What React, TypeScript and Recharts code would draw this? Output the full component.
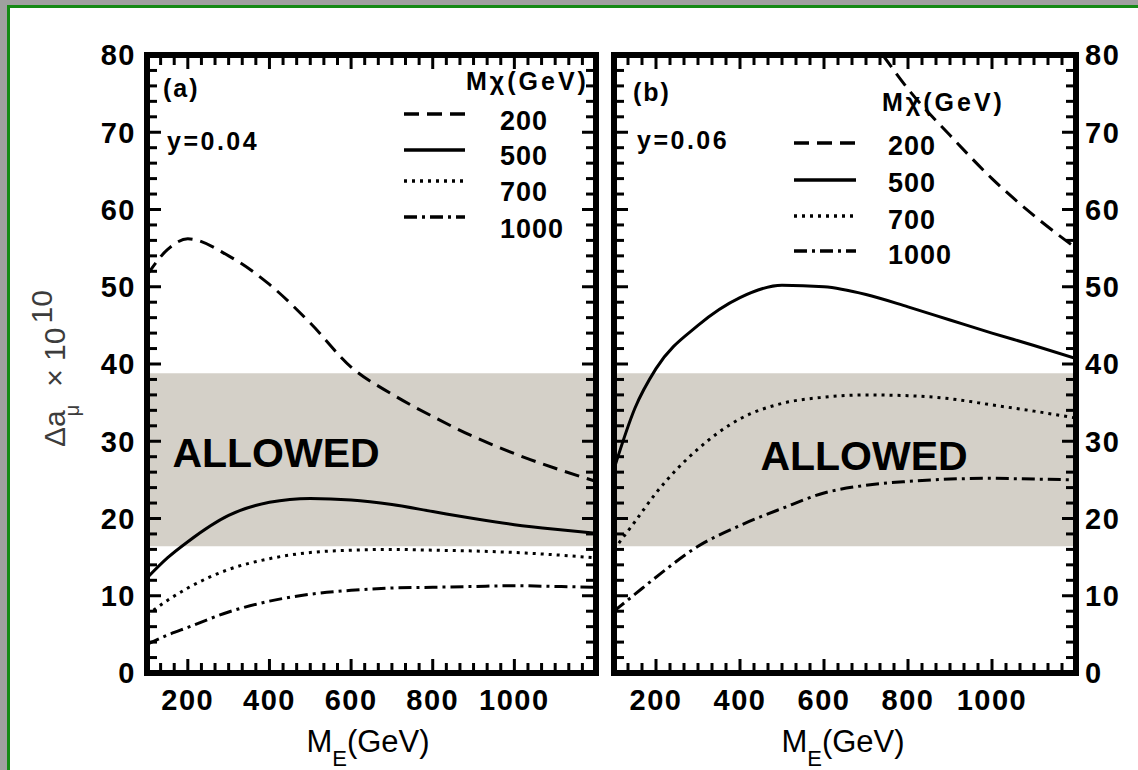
import React from "react";
import { LineChart, Line, XAxis, YAxis, ReferenceArea } from "recharts";

// M_E sample points (GeV)
const mE = [100, 150, 200, 300, 400, 500, 600, 700, 800, 900, 1000, 1100, 1200];

// panel (a): y = 0.04, curves for M_chi = 200, 500, 700, 1000 GeV
const a200 = [51.5, 54.8, 56.2, 54.0, 50.3, 45.3, 39.6, 36.1, 33.2, 30.6, 28.4, 26.5, 24.8];
const a500 = [12.3, 14.9, 17.0, 20.4, 22.1, 22.6, 22.4, 21.8, 20.9, 20.0, 19.2, 18.6, 18.1];
const a700 = [7.5, 9.4, 11.0, 13.4, 14.8, 15.6, 15.9, 16.0, 15.9, 15.8, 15.6, 15.3, 14.9];
const a1000 = [3.7, 4.9, 5.9, 7.9, 9.3, 10.2, 10.7, 11.0, 11.1, 11.2, 11.3, 11.2, 11.1];

// panel (b): y = 0.06
const b200x = [740, 800, 900, 1000, 1100, 1200];
const b200 = [80, 75.6, 69.6, 64.0, 59.2, 55.0];
const b500 = [26.4, 34.3, 39.4, 45.0, 48.6, 50.2, 50.0, 49.0, 47.4, 45.7, 44.0, 42.4, 40.7];
const b700 = [16.0, 19.6, 23.3, 29.0, 32.9, 34.9, 35.7, 36.0, 35.9, 35.5, 34.7, 33.9, 33.0];
const b1000 = [8.0, 10.2, 12.4, 16.4, 19.1, 21.3, 23.3, 24.3, 24.8, 25.1, 25.2, 25.1, 25.0];

// experimentally allowed band
const allowedBand = [16.4, 38.8];

const xMajor = [200, 400, 600, 800, 1000];
const yMajor = [0, 10, 20, 30, 40, 50, 60, 70, 80];
const legendMasses = ["200", "500", "700", "1000"];

const xTicks: number[] = [];
for (let k = 0; k <= 33; k++) xTicks.push(100 + (k * 100) / 3);
const yTicks: number[] = [];
for (let v = 0; v <= 80; v += 2) yTicks.push(v);

const FONT = "'Liberation Sans', Arial, Helvetica, sans-serif";
const DASH: (string | undefined)[] = ["15 8", undefined, "3 5", "13 5 3 5"];

const pts = (xs: number[], ys: number[]) => xs.map((m, i) => ({ m, v: ys[i] }));

const numStyle = { fontFamily: FONT, fontWeight: 700, fontSize: 29, letterSpacing: 1.5 };

function xTick(side: "top" | "bottom", gap: number, label: boolean) {
  return (p: any) => {
    const v = p.payload.value;
    const major = xMajor.some((t) => Math.abs(t - v) < 0.01);
    const axisY = side === "bottom" ? p.y - gap : p.y + gap;
    const dir = side === "bottom" ? -1 : 1;
    return (
      <g>
        <line x1={p.x} x2={p.x} y1={axisY} y2={axisY + dir * (major ? 14 : 10)} stroke="#000" strokeWidth={3} />
        {label && major && (
          <text x={p.x} y={p.y} dy="0.36em" textAnchor="middle" fill="#000" style={numStyle}>
            {Math.round(v)}
          </text>
        )}
      </g>
    );
  };
}

function yTick(side: "left" | "right", gap: number, label: boolean) {
  return (p: any) => {
    const v = p.payload.value;
    const major = yMajor.includes(v);
    const axisX = side === "left" ? p.x + gap : p.x - gap;
    const dir = side === "left" ? 1 : -1;
    return (
      <g>
        <line x1={axisX} x2={axisX + dir * (major ? 14 : 10)} y1={p.y} y2={p.y} stroke="#000" strokeWidth={3} />
        {label && major && (
          <text x={p.x} y={p.y} dy="0.36em" textAnchor={side === "left" ? "end" : "start"} fill="#000" style={numStyle}>
            {v}
          </text>
        )}
      </g>
    );
  };
}

const axisLine = { stroke: "#000", strokeWidth: 6, strokeLinecap: "square" as const };

function Panel({ left, width, margin, labelsLeft, series }: any) {
  return (
    <div style={{ position: "absolute", left, top: 0 }}>
      <LineChart width={width} height={770} margin={margin}>
        <ReferenceArea xAxisId="bottom" yAxisId="left" x1={100} x2={1200} y1={allowedBand[0]} y2={allowedBand[1]}
          fill="#d4d0c8" fillOpacity={1} stroke="none" />
        {series.map((s: any, i: number) => (
          <Line key={i} xAxisId="bottom" yAxisId="left" data={s} dataKey="v" type="monotone" stroke="#000"
            strokeWidth={3} strokeDasharray={DASH[i]} dot={false} isAnimationActive={false} />
        ))}
        <XAxis xAxisId="bottom" orientation="bottom" dataKey="m" type="number" domain={[100, 1200]} allowDataOverflow
          ticks={xTicks} interval={0} tickSize={0} tickMargin={27} height={40} axisLine={axisLine} tickLine={false}
          tick={xTick("bottom", 27, true)} />
        <XAxis xAxisId="top" orientation="top" dataKey="m" type="number" domain={[100, 1200]} allowDataOverflow
          ticks={xTicks} interval={0} tickSize={0} tickMargin={4} height={10} axisLine={axisLine} tickLine={false}
          tick={xTick("top", 4, false)} />
        <YAxis yAxisId="left" orientation="left" type="number" domain={[0, 80]} allowDataOverflow
          ticks={yTicks} interval={0} tickSize={0} tickMargin={labelsLeft ? 11 : 2} width={labelsLeft ? 60 : 8}
          axisLine={axisLine} tickLine={false} tick={yTick("left", labelsLeft ? 11 : 2, labelsLeft)} />
        <YAxis yAxisId="right" orientation="right" type="number" domain={[0, 80]} allowDataOverflow
          ticks={yTicks} interval={0} tickSize={0} tickMargin={labelsLeft ? 2 : 9} width={labelsLeft ? 8 : 50}
          axisLine={axisLine} tickLine={false} tick={yTick("right", labelsLeft ? 2 : 9, !labelsLeft)} />
      </LineChart>
    </div>
  );
}

function Legend({ lineX, textX, lineYs, textYs }: any) {
  return (
    <g>
      {legendMasses.map((m, i) => (
        <g key={m}>
          <line x1={lineX[0]} x2={lineX[1]} y1={lineYs[i]} y2={lineYs[i]} stroke="#000" strokeWidth={3.5} strokeDasharray={DASH[i]} />
          <text x={textX} y={textYs[i]} dy="0.36em" style={{ fontFamily: FONT, fontWeight: 700, fontSize: 27, letterSpacing: 1 }}>{m}</text>
        </g>
      ))}
    </g>
  );
}

export default function App() {
  const seriesA = [pts(mE, a200), pts(mE, a500), pts(mE, a700), pts(mE, a1000)];
  const seriesB = [pts(b200x, b200), pts(mE, b500), pts(mE, b700), pts(mE, b1000)];
  const bold = { fontFamily: FONT, fontWeight: 700 };
  return (
    <div style={{ position: "absolute", left: 0, top: 0, width: 1138, height: 770, background: "#a0a0a0", overflow: "hidden" }}>
      <div style={{ position: "absolute", left: 7, top: 5, width: 1160, height: 762, background: "#fff", borderTop: "3px solid #158a15", borderLeft: "3px solid #158a15", borderBottom: "2px solid #8cc08c" }} />
      <Panel left={0} width={605} labelsLeft margin={{ top: 45, right: 1, bottom: 57, left: 87 }} series={seriesA} />
      <Panel left={605} width={533} labelsLeft={false} margin={{ top: 45, right: 12, bottom: 57, left: 1 }} series={seriesB} />
      <svg width={1138} height={770} style={{ position: "absolute", left: 0, top: 0, pointerEvents: "none" }}>
        {/* panel (a) annotations */}
        <text x={163} y={88} dy="0.36em" style={{ ...bold, fontSize: 25, letterSpacing: 2 }}>(a)</text>
        <text x={167} y={141} dy="0.36em" style={{ ...bold, fontSize: 25, letterSpacing: 2.5 }}>y=0.04</text>
        <text x={466} y={81} dy="0.36em" style={{ ...bold, fontSize: 25, letterSpacing: 3 }}>Mχ(GeV)</text>
        <Legend lineX={[404, 465]} textX={500} lineYs={[114, 150, 181, 217]} textYs={[120, 155, 191, 228]} />
        <text x={276} y={467} textAnchor="middle" style={{ ...bold, fontSize: 41 }}>ALLOWED</text>
        {/* panel (b) annotations */}
        <text x={633} y={92} dy="0.36em" style={{ ...bold, fontSize: 25, letterSpacing: 2 }}>(b)</text>
        <text x={637} y={140} dy="0.36em" style={{ ...bold, fontSize: 25, letterSpacing: 2.5 }}>y=0.06</text>
        <text x={882} y={102} dy="0.36em" style={{ ...bold, fontSize: 25, letterSpacing: 3 }}>Mχ(GeV)</text>
        <Legend lineX={[794, 856]} textX={888} lineYs={[143, 180, 216, 251]} textYs={[145, 182, 219, 254]} />
        <text x={864} y={470} textAnchor="middle" style={{ ...bold, fontSize: 41 }}>ALLOWED</text>
        {/* axis titles */}
        <text x={368} y={752} textAnchor="middle" style={{ fontFamily: FONT, fontSize: 31 }}>
          M<tspan dy={14} fontSize={22}>E</tspan><tspan dy={-14}>(GeV)</tspan>
        </text>
        <text x={843} y={752} textAnchor="middle" style={{ fontFamily: FONT, fontSize: 31 }}>
          M<tspan dy={14} fontSize={22}>E</tspan><tspan dy={-14}>(GeV)</tspan>
        </text>
        <text x={65} y={447} transform="rotate(-90 65 447)" fill="#3c3c3c" style={{ fontFamily: FONT, fontSize: 30 }}>
          Δa<tspan dx={-6} dy={14} fontSize={20}>μ</tspan>
          <tspan dx={18} dy={-14}>× 10</tspan>
          <tspan dx={4} dy={-13}>10</tspan>
        </text>
      </svg>
    </div>
  );
}
